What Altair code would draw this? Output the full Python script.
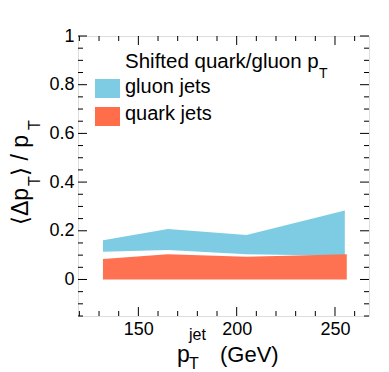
import altair as alt
import pandas as pd

# ---- data ----
gluon_pt = [132, 165, 205, 255]
gluon_lo = [0.114, 0.121, 0.104, 0.097]
gluon_hi = [0.161, 0.207, 0.183, 0.283]

quark_pt = [132, 165, 205, 256]
quark_lo = [0.0, 0.0, 0.0, 0.0]
quark_hi = [0.084, 0.104, 0.093, 0.104]

x_major = [150, 200, 250]
x_minor = [120, 130, 140, 160, 170, 180, 190, 210, 220, 230, 240, 260]
y_major = [0, 0.2, 0.4, 0.6, 0.8, 1.0]
y_minor = [-0.15, -0.1, -0.05, 0.05, 0.1, 0.15, 0.25, 0.3, 0.35, 0.45, 0.5,
           0.55, 0.65, 0.7, 0.75, 0.85, 0.9, 0.95]

GLUON_COLOR = "#7ecce3"
QUARK_COLOR = "#ff6d4b"
FONT = "Liberation Sans"

W, H = 291, 280
xscale = alt.Scale(domain=[119.3, 267.3], nice=False, zero=False)
yscale = alt.Scale(domain=[-0.15, 1.0], nice=False, zero=False)

xaxis = alt.Axis(values=x_major, title=None, grid=False, domain=False, tickSize=0,
                 labelFont=FONT, labelFontSize=18, labelColor="black", labelPadding=4)
yaxis = alt.Axis(values=y_major, format="~g", title=None, grid=False, domain=False,
                 tickSize=0, labelFont=FONT, labelFontSize=18, labelColor="black",
                 labelPadding=4)

gluon_df = pd.DataFrame({"pt": gluon_pt, "lo": gluon_lo, "hi": gluon_hi})
quark_df = pd.DataFrame({"pt": quark_pt, "lo": quark_lo, "hi": quark_hi})

gluon = alt.Chart(gluon_df).mark_area(color=GLUON_COLOR, opacity=1).encode(
    x=alt.X("pt:Q", scale=xscale, axis=xaxis),
    y=alt.Y("lo:Q", scale=yscale, axis=yaxis),
    y2="hi:Q",
)
quark = alt.Chart(quark_df).mark_area(color=QUARK_COLOR, opacity=0.97).encode(
    x=alt.X("pt:Q", scale=xscale),
    y=alt.Y("lo:Q", scale=yscale),
    y2="hi:Q",
)

xmaj_df = pd.DataFrame({"v": x_major})
xmin_df = pd.DataFrame({"v": x_minor})
ymaj_df = pd.DataFrame({"v": y_major})
ymin_df = pd.DataFrame({"v": y_minor})

MAJ, MIN = 9, 5


def xticks(df, length):
    bottom = alt.Chart(df).mark_rule(color="black", strokeWidth=1).encode(
        x=alt.X("v:Q", scale=xscale), y=alt.value(H), y2=alt.value(H - length))
    top = alt.Chart(df).mark_rule(color="black", strokeWidth=1).encode(
        x=alt.X("v:Q", scale=xscale), y=alt.value(0), y2=alt.value(length))
    return [bottom, top]


def yticks(df, length):
    left = alt.Chart(df).mark_rule(color="black", strokeWidth=1).encode(
        y=alt.Y("v:Q", scale=yscale), x=alt.value(0), x2=alt.value(length))
    right = alt.Chart(df).mark_rule(color="black", strokeWidth=1).encode(
        y=alt.Y("v:Q", scale=yscale), x=alt.value(W), x2=alt.value(W - length))
    return [left, right]


one = pd.DataFrame({"a": [0]})


def txt(s, x, y, size, angle=0):
    return alt.Chart(one).mark_text(
        text=s, font=FONT, fontSize=size, angle=angle, align="left",
        baseline="alphabetic", color="black"
    ).encode(x=alt.value(x), y=alt.value(y))


def box(x1, x2, y1, y2, color):
    return alt.Chart(one).mark_rect(color=color).encode(
        x=alt.value(x1), x2=alt.value(x2), y=alt.value(y1), y2=alt.value(y2))


texts = [
    # x-axis title  p_T^jet (GeV)
    txt("p", 99, 326, 23),
    txt("jet", 111, 304, 16),
    txt("T", 111, 333, 16),
    txt("(GeV)", 142, 326, 22),
    # y-axis title  <Δp_T> / p_T (rotated)
    txt("\u27e8\u0394p", -50, 189, 23, 270),
    txt("T", -38, 150, 16, 270),
    txt("\u27e9 / p", -50, 140, 23, 270),
    txt("T", -38, 94, 16, 270),
    # legend
    txt("Shifted quark/gluon p", 47, 32, 20.5),
    txt("T", 241, 42, 14),
    box(17, 42, 43, 62, GLUON_COLOR),
    txt("gluon jets", 47, 57, 20),
    box(17, 42, 71, 90, QUARK_COLOR),
    txt("quark jets", 47, 84, 20),
]

layers = [gluon, quark]
layers += xticks(xmaj_df, MAJ) + xticks(xmin_df, MIN)
layers += yticks(ymaj_df, MAJ) + yticks(ymin_df, MIN)
layers += texts

chart = alt.layer(*layers).properties(
    width=W, height=H,
    autosize=alt.AutoSizeParams(type="none"),
    padding={"left": 70, "top": 28, "right": 11, "bottom": 56},
).configure_view(stroke="black", strokeWidth=1.5).configure(background="white")

chart.save("out.html", embed_options={"renderer": "svg", "actions": False})
